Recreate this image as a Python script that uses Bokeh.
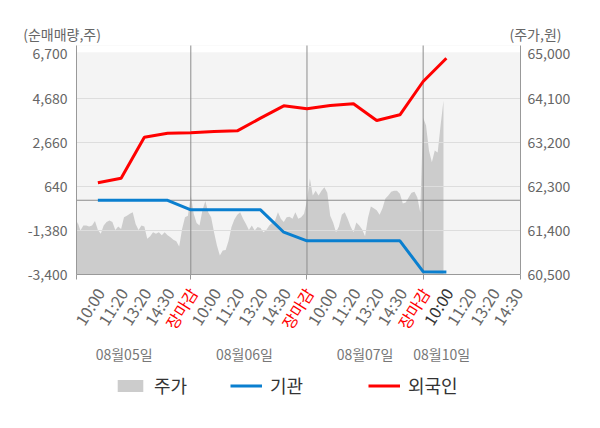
import numpy as np
from bokeh.plotting import figure
from bokeh.layouts import column
from bokeh.models import (Range1d, LinearAxis, FixedTicker, NumeralTickFormatter,
                          ColumnDataSource, LabelSet, Label, Legend, LegendItem, BoxAnnotation)
from bokeh.core.properties import value
from bokeh.embed import file_html
from bokeh.resources import INLINE

FONT = "Noto Sans CJK KR"

# ---------------- data ----------------
dates = ["08월05일", "08월06일", "08월07일", "08월10일"]
date_label_slot = [2.13, 7.31, 12.5, 15.8]
slot_labels = ["10:00", "11:20", "13:20", "14:30", "장마감"] * 3 + ["10:00", "11:20", "13:20", "14:30"]
day_breaks = [5, 10, 15]

# cumulative net buying (shares) at each label slot
foreign = [800, 1010, 2890, 3070, 3090,
           3150, 3180, 3760, 4325, 4190,
           4340, 4418, 3653, 3914, 5439,
           6507]
institution = [0, 0, 0, 0, -437,
               -437, -437, -437, -1463, -1857,
               -1857, -1857, -1857, -1857, -3270,
               -3290]

SAMPLES_PER_SLOT = 8
price = [
    61300, 61570, 61400, 61500, 61500, 61480, 61500, 61590,
    61410, 61330, 61500, 61570, 61600, 61570, 61410, 61480,
    61430, 61670, 61700, 61740, 61770, 61530, 61410, 61500,
    61480, 61230, 61280, 61360, 61330, 61360, 61300, 61360,
    61300, 61260, 61210, 61180, 61070, 61430, 61670, 61700,
    62110, 61740, 61550, 61500, 61810, 62000, 61770, 61670,
    61360, 61090, 60890, 60990, 61000, 61190, 61470, 61620,
    61720, 61770, 61640, 61530, 61410, 61500, 61400, 61470,
    61450, 61360, 61410, 61500, 61550, 61600, 61770, 61640,
    61570, 61670, 61680, 61640, 61770, 61640, 61670, 61740,
    62010, 62460, 62110, 62210, 62110, 62210, 62280, 62170,
    61700, 61560, 61360, 61480, 61720, 61770, 61640, 61480,
    61360, 61560, 61500, 61420, 61280, 61660, 61890, 61850,
    61810, 61720, 61850, 62050, 62110, 62190, 62210, 62210,
    62150, 61950, 61970, 62070, 62170, 62190, 62070, 61770,
    63700, 63540, 63030, 62790, 63030, 62990, 63540, 64050,
]

left_ticks = [-3400, -1380, 640, 2660, 4680, 6700]
right_ticks = [60500, 61400, 62300, 63200, 64100, 65000]

# ---------------- derived ----------------
slot_x = list(range(1, len(slot_labels) + 1))
flow_x = list(range(1, len(foreign) + 1))
price_x = np.arange(len(price)) / SAMPLES_PER_SLOT
slot_colors = []
for i, t in enumerate(slot_labels):
    if t == "장마감":
        slot_colors.append("#ff0000")
    elif i == len(foreign) - 1:
        slot_colors.append("#333333")
    else:
        slot_colors.append("#666666")

W, H = 600, 428
LEFT, RIGHT = 76, 80          # border widths of main plot
TOP_H = 43                    # header strip height
MAIN_T = 2                    # main plot top border
FRAME_H = 229                 # main plot frame height
MAIN_B = 10                   # main plot bottom border
X0, X1 = 0.08, 19.19
Y0, Y1 = -3400, 7088
P0, P1 = 60500, 65173
BG_TOP = 6782
PX = (W - LEFT - RIGHT) / (X1 - X0)
AXIS_Y = TOP_H + MAIN_T + FRAME_H   # page row of the x axis line

# ---------------- header (axis titles) ----------------
top = figure(width=W, height=TOP_H, x_range=Range1d(0, W), y_range=Range1d(0, TOP_H),
             output_backend="svg", toolbar_location=None, min_border=0, frame_align=False,
             outline_line_color=None, background_fill_color="white", border_fill_color="white")
top.axis.visible = False
top.grid.visible = False
top.add_layout(Label(x=22.7, y=TOP_H - 33, text="(순매매량,주)", text_align="left", text_baseline="middle",
                     text_color="#666666", text_font=FONT, text_font_size="14px"))
top.add_layout(Label(x=509, y=TOP_H - 33, text="(주가,원)", text_align="left", text_baseline="middle",
                     text_color="#666666", text_font=FONT, text_font_size="14px"))

# ---------------- main chart ----------------
p = figure(width=W, height=MAIN_T + FRAME_H + MAIN_B, x_range=Range1d(X0, X1), y_range=Range1d(Y0, Y1),
           output_backend="svg", toolbar_location=None, frame_align=False,
           min_border_left=LEFT, min_border_right=RIGHT, min_border_top=MAIN_T, min_border_bottom=MAIN_B,
           background_fill_color="#f4f4f4", border_fill_color="white", outline_line_color=None)
p.extra_y_ranges = {"price": Range1d(P0, P1)}

p.add_layout(BoxAnnotation(bottom=BG_TOP, top=Y1, fill_color="white", fill_alpha=1,
                           line_color=None, level="image"))

area_r = p.varea(x=price_x, y1=P0, y2=price, y_range_name="price",
                 fill_color="#cccccc", level="underlay")

p.xgrid.visible = False
p.ygrid.ticker = FixedTicker(ticks=left_ticks[1:-1])
p.ygrid.grid_line_color = "#dddddd"
p.ygrid.level = "glyph"

p.segment(x0=day_breaks, y0=Y0, x1=day_breaks, y1=Y1, line_color="#8c8c8c", line_width=1, level="guide")
p.segment(x0=[X0], y0=[0], x1=[X1], y1=[0], line_color="#8c8c8c", line_width=1, level="guide")

BLUE, RED, GRAY = "#0a7fcf", "#ff0000", "#cccccc"
blue_r = p.line(flow_x, institution, line_color=BLUE, line_width=3, level="annotation")
red_r = p.line(flow_x, foreign, line_color=RED, line_width=3, level="annotation")

yl = p.yaxis[0]
yl.ticker = FixedTicker(ticks=left_ticks)
yl.formatter = NumeralTickFormatter(format="0,0")
yr = LinearAxis(y_range_name="price", ticker=FixedTicker(ticks=right_ticks),
                formatter=NumeralTickFormatter(format="0,0"))
p.add_layout(yr, "right")
for ax, st in ((yl, 9), (yr, 7)):
    ax.major_tick_out = 0
    ax.major_tick_in = 0
    ax.minor_tick_line_color = None
    ax.axis_line_color = "#999999"
    ax.major_label_standoff = st
    ax.major_label_text_font = FONT
    ax.major_label_text_font_size = "14px"
    ax.major_label_text_color = "#666666"

xa = p.xaxis[0]
xticks = [X0] + day_breaks + [X1]
xa.ticker = FixedTicker(ticks=xticks)
xa.major_label_overrides = {t: "" for t in xticks}
xa.major_label_text_font_size = "0px"
xa.major_label_standoff = 0
xa.major_tick_out = 5
xa.major_tick_in = 0
xa.minor_tick_line_color = None
xa.axis_line_color = "#999999"
xa.major_tick_line_color = "#999999"

# ---------------- footer (time labels, dates, legend) ----------------
BOT_H = H - TOP_H - MAIN_T - FRAME_H - MAIN_B
bot = figure(width=W, height=BOT_H,
             x_range=Range1d(X0 - LEFT / PX, X1 + RIGHT / PX),
             y_range=Range1d(-(H - AXIS_Y), -MAIN_B),
             output_backend="svg", toolbar_location=None, min_border=0, frame_align=False,
             outline_line_color=None, background_fill_color="white", border_fill_color="white")
bot.axis.visible = False
bot.grid.visible = False
# y of the footer = rows below the x axis line (negative)
bot.add_layout(LabelSet(x="x", y=-15, text="text", text_color="color",
                        source=ColumnDataSource(dict(x=slot_x, text=slot_labels, color=slot_colors)),
                        angle=58, angle_units="deg", text_align="right", text_baseline="middle",
                        x_offset=2, text_font=value(FONT), text_font_size="16px"))
bot.add_layout(LabelSet(x="x", y=-79, text="text", text_color="#777777",
                        source=ColumnDataSource(dict(x=date_label_slot, text=dates)),
                        text_align="center", text_baseline="middle",
                        text_font=value(FONT), text_font_size="14px"))

# legend swatches: the same series drawn on a range far outside this strip's view
bot.extra_y_ranges = {"off": Range1d(1e7, 2e7)}
lg_area = bot.varea(x=price_x, y1=P0, y2=price, fill_color=GRAY, y_range_name="off")
lg_blue = bot.line(flow_x, institution, line_color=BLUE, line_width=3, y_range_name="off")
lg_red = bot.line(flow_x, foreign, line_color=RED, line_width=3, y_range_name="off")
for lab, r, lx in (("주가", lg_area, 114), ("기관", lg_blue, 230), ("외국인", lg_red, 368)):
    lg = Legend(items=[LegendItem(label=lab, renderers=[r])], location=(lx, 30),
                orientation="horizontal", glyph_width=32, glyph_height=15, label_height=15,
                label_standoff=8, padding=0, margin=0, spacing=0,
                border_line_color=None, background_fill_alpha=0,
                label_text_font=FONT, label_text_font_size="18px", label_text_color="#333333")
    bot.add_layout(lg)

layout = column(top, p, bot, spacing=0)
open("out.html", "w").write(file_html(layout, INLINE))
